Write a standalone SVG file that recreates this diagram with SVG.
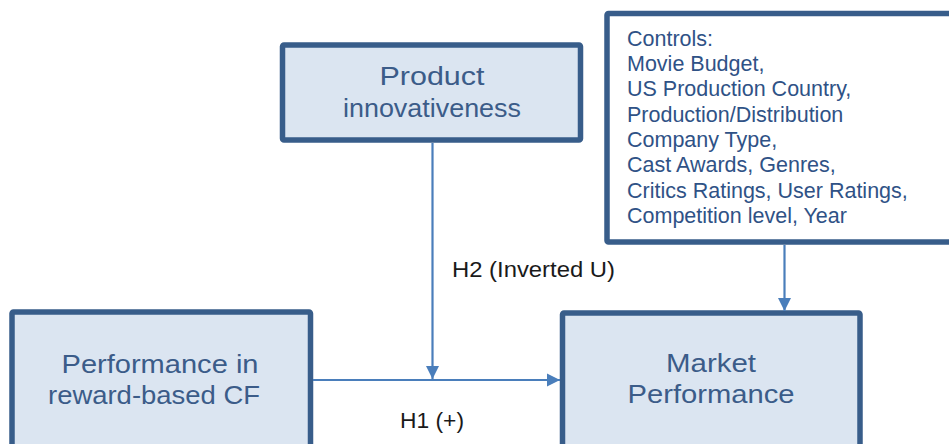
<svg xmlns="http://www.w3.org/2000/svg" width="949" height="444" viewBox="0 0 949 444">
  <style>
    .box { fill: #dbe5f1; stroke: #385d8a; stroke-width: 5.5; }
    .ctl { fill: #ffffff; stroke: #385d8a; stroke-width: 5.5; }
    .nt { font-family: "Liberation Sans", Arial, sans-serif; font-size: 26px; fill: #3b5c89; text-anchor: middle; }
    .ct { font-family: "Liberation Sans", Arial, sans-serif; font-size: 21.5px; fill: #2f5286; }
    .lbl { font-family: "Liberation Sans", Arial, sans-serif; font-size: 22px; fill: #1a1a1a; }
    .conn { stroke: #4a7ebb; stroke-width: 2.2; fill: none; }
  </style>
  <defs>
    <marker id="arrow" markerUnits="userSpaceOnUse" markerWidth="16" markerHeight="16" viewBox="0 0 16 16" refX="15" refY="8" orient="auto">
      <path d="M2,1.5 L15,8 L2,14.5 Z" fill="#4a7ebb"/>
    </marker>
  </defs>

  <rect width="949" height="444" fill="#ffffff"/>

  <!-- Product innovativeness -->
  <g id="product">
    <rect class="box" x="282.5" y="45" width="298" height="95" rx="1.5"/>
    <text class="nt" x="432" y="85" textLength="105" lengthAdjust="spacingAndGlyphs">Product</text>
    <text class="nt" x="432" y="117" textLength="178" lengthAdjust="spacingAndGlyphs">innovativeness</text>
  </g>

  <!-- Controls -->
  <g id="controls">
    <rect class="ctl" x="607" y="13.5" width="360" height="228.5" rx="1.5"/>
    <text class="ct" x="627" y="45.5">Controls:</text>
    <text class="ct" x="627" y="71">Movie Budget,</text>
    <text class="ct" x="627" y="96">US Production Country,</text>
    <text class="ct" x="627" y="121.5">Production/Distribution</text>
    <text class="ct" x="627" y="147">Company Type,</text>
    <text class="ct" x="627" y="172">Cast Awards, Genres,</text>
    <text class="ct" x="627" y="197.5">Critics Ratings, User Ratings,</text>
    <text class="ct" x="627" y="223">Competition level, Year</text>
  </g>

  <!-- Performance in reward-based CF -->
  <g id="performance">
    <rect class="box" x="12" y="312" width="298.5" height="150" rx="1.5"/>
    <text class="nt" x="160" y="373" textLength="197" lengthAdjust="spacingAndGlyphs">Performance in</text>
    <text class="nt" x="154" y="404" textLength="212" lengthAdjust="spacingAndGlyphs">reward-based CF</text>
  </g>

  <!-- Market Performance -->
  <g id="market">
    <rect class="box" x="562.5" y="313" width="297.5" height="150" rx="1.5"/>
    <text class="nt" x="711" y="372" textLength="90" lengthAdjust="spacingAndGlyphs">Market</text>
    <text class="nt" x="711" y="403" textLength="167" lengthAdjust="spacingAndGlyphs">Performance</text>
  </g>

  <!-- Connectors -->
  <g id="connectors">
    <line class="conn" x1="313" y1="380" x2="560" y2="380" marker-end="url(#arrow)"/>
    <line class="conn" x1="432.5" y1="143" x2="432.5" y2="379" marker-end="url(#arrow)"/>
    <line class="conn" x1="784.5" y1="245" x2="784.5" y2="311" marker-end="url(#arrow)"/>
    <text class="lbl" x="452" y="277" textLength="163" lengthAdjust="spacingAndGlyphs">H2 (Inverted U)</text>
    <text class="lbl" x="400" y="428" textLength="64" lengthAdjust="spacingAndGlyphs">H1 (+)</text>
  </g>
</svg>
